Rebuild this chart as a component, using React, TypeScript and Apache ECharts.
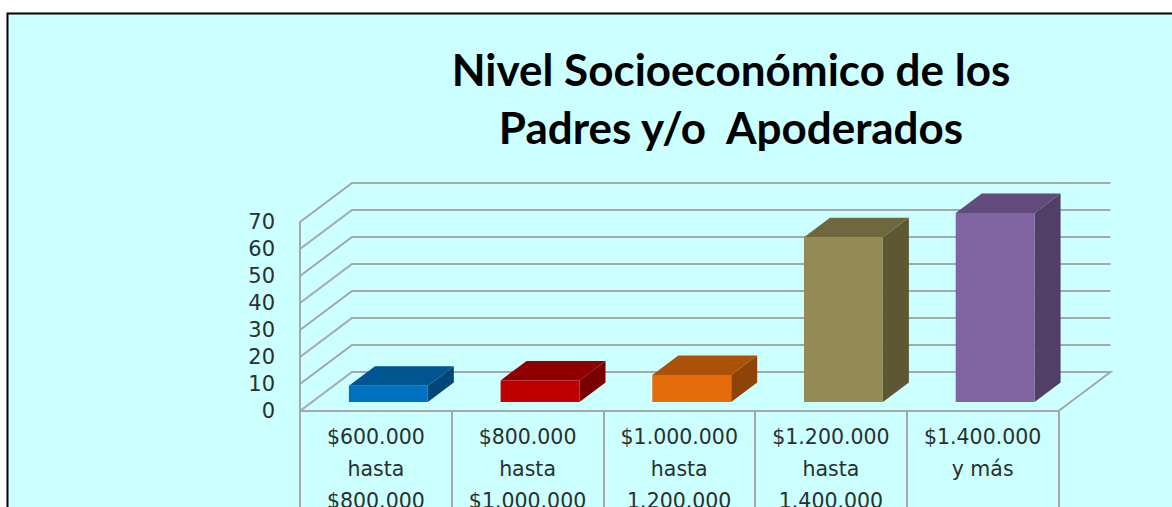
import React, { useEffect, useRef } from "react";
import * as echarts from "echarts";

const categories = [
  "$600.000\nhasta\n$800.000",
  "$800.000\nhasta\n$1.000.000",
  "$1.000.000\nhasta\n1.200.000",
  "$1.200.000\nhasta\n1.400.000",
  "$1.400.000\ny más",
];
const values = [6, 8, 10, 61, 70];
const yTicks = [0, 10, 20, 30, 40, 50, 60, 70];
const titleText = "Nivel Socioeconómico de los\nPadres y/o  Apoderados";
const frontColors = ["#0070C0", "#C00000", "#E46C0A", "#948A54", "#8064A2"];
const topColors = ["#00548F", "#8F0000", "#AB5108", "#6F673F", "#604B7A"];
const sideColors = ["#004778", "#780000", "#8F4407", "#5D5735", "#513F66"];

const GRID = "#A3A8A8";
const DEPTH_X = 52;
const DEPTH_Y = -39;

export default function App() {
  const ref = useRef<HTMLDivElement>(null);
  useEffect(() => {
    const chart = echarts.init(ref.current!, null, { renderer: "svg" });
    const wallItem = (params: any, api: any) => {
      const v = api.value(0);
      const rect = params.coordSys;
      const y = api.coord([0, v])[1];
      const x0 = rect.x;
      const x1 = rect.x + rect.width;
      const style = { stroke: GRID, lineWidth: 2, fill: "none" };
      const pts =
        v === 0
          ? [
              [x0, y],
              [x0 + DEPTH_X, y + DEPTH_Y],
              [x1 + DEPTH_X, y + DEPTH_Y],
              [x1, y],
            ]
          : [
              [x0, y],
              [x0 + DEPTH_X, y + DEPTH_Y],
              [x1 + DEPTH_X, y + DEPTH_Y],
            ];
      return { type: "polyline", shape: { points: pts }, style };
    };
    const barItem = (_params: any, api: any) => {
      const i = api.value(0);
      const base = api.coord([i, 0]);
      const top = api.coord([i, api.value(1)]);
      const band = api.size([1, 0])[0];
      const w = band * 0.52;
      const sx = 12.5;
      const sy = -9;
      const dx = 26;
      const dy = -19.5;
      const l = base[0] + sx - w / 2;
      const r = l + w;
      const b = base[1] + sy;
      const t = top[1] + sy;
      return {
        type: "group",
        children: [
          {
            type: "polygon",
            shape: { points: [[r, b], [r + dx, b + dy], [r + dx, t + dy], [r, t]] },
            style: { fill: sideColors[i] },
          },
          {
            type: "polygon",
            shape: { points: [[l, t], [r, t], [r + dx, t + dy], [l + dx, t + dy]] },
            style: { fill: topColors[i] },
          },
          {
            type: "rect",
            shape: { x: l, y: t, width: w, height: b - t },
            style: { fill: frontColors[i] },
          },
        ],
      };
    };
    chart.setOption({
      animation: false,
      backgroundColor: "#FFFFFF",
      title: {
        text: titleText,
        left: 726,
        top: 35,
        textAlign: "center",
        textStyle: {
          fontFamily: "Lato",
          fontWeight: "bold",
          fontSize: 44,
          lineHeight: 58,
          color: "#000000",
        },
      },
      graphic: [
        {
          type: "rect",
          z: -1,
          shape: { x: 7.5, y: 13.5, width: 1300, height: 700 },
          style: { fill: "#CCFFFF", stroke: "#000000", lineWidth: 2 },
        },
      ],
      grid: { left: 300, right: 113.5, top: 222, bottom: 96, outerBoundsMode: "none" },
      xAxis: {
        type: "category",
        data: categories,
        axisLine: { show: true, lineStyle: { color: GRID, width: 2 } },
        axisTick: { show: true, length: 110, alignWithLabel: false, lineStyle: { color: GRID, width: 2 } },
        axisLabel: {
          interval: 0,
          margin: 10,
          fontFamily: "DejaVu Sans",
          fontSize: 20.5,
          lineHeight: 32,
          color: "#2A3030",
        },
      },
      yAxis: {
        type: "value",
        min: 0,
        max: 70,
        interval: 10,
        axisLine: { show: true, lineStyle: { color: GRID, width: 2 } },
        axisTick: { show: false },
        splitLine: { show: false },
        axisLabel: {
          margin: 25,
          fontFamily: "DejaVu Sans",
          fontSize: 21,
          color: "#2A3030",
          formatter: (v: number) => (yTicks.includes(v) ? String(v) : ""),
        },
      },
      series: [
        {
          type: "custom",
          renderItem: wallItem,
          data: yTicks.map((v) => [v]),
          encode: { y: 0 },
          z: 1,
          silent: true,
        },
        {
          type: "custom",
          renderItem: barItem,
          data: values.map((v, i) => [i, v]),
          encode: { x: 0, y: 1 },
          z: 3,
        },
      ],
    });
    return () => chart.dispose();
  }, []);
  return (
    <div
      ref={ref}
      style={{ position: "fixed", left: 0, top: 0, width: 1172, height: 507, overflow: "hidden" }}
    />
  );
}
